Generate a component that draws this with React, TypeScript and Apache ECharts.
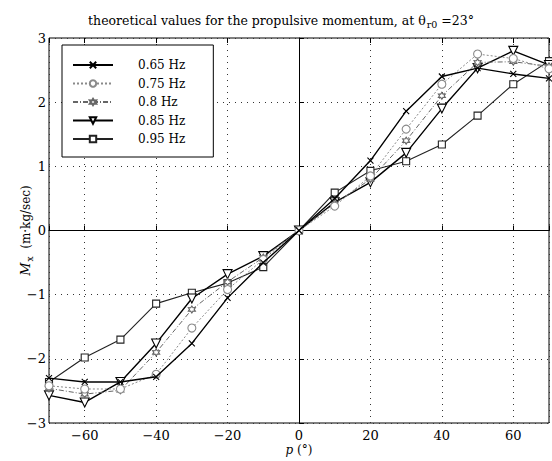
import React, { useEffect, useRef } from "react";
import * as echarts from "echarts";

const angles = [-70, -60, -50, -40, -30, -20, -10, 0, 10, 20, 30, 40, 50, 60, 70];
const seriesNames = ["0.65 Hz", "0.75 Hz", "0.8 Hz", "0.85 Hz", "0.95 Hz"];
const hz065 = [-2.30, -2.36, -2.36, -2.28, -1.76, -1.05, -0.50, 0, 0.50, 1.09, 1.86, 2.40, 2.53, 2.44, 2.37];
const hz075 = [-2.42, -2.47, -2.47, -2.24, -1.52, -0.92, -0.45, 0, 0.38, 0.85, 1.58, 2.28, 2.75, 2.68, 2.52];
const hz080 = [-2.46, -2.55, -2.49, -1.90, -1.23, -0.80, -0.42, 0, 0.42, 0.80, 1.40, 2.10, 2.62, 2.63, 2.56];
const hz085 = [-2.57, -2.68, -2.36, -1.76, -1.06, -0.68, -0.40, 0, 0.44, 0.75, 1.21, 1.90, 2.53, 2.80, 2.58];
const hz095 = [-2.36, -1.98, -1.70, -1.14, -0.97, -0.82, -0.57, 0, 0.59, 0.93, 1.08, 1.34, 1.79, 2.28, 2.64];

const FONT = "DejaVu Serif";

const pair = (vals: number[]) => angles.map((a, i) => [a, vals[i]]);
const minus = (v: number) => String(v).replace("-", "\u2212");

export default function App() {
  const ref = useRef<HTMLDivElement>(null);
  useEffect(() => {
    if (!ref.current) return;
    const chart = echarts.init(ref.current, undefined, { renderer: "svg" });
    const xMark = "path://M0,0L10,10M0,10L10,0";
    const star = "path://M5,0L6.4,2.6L9.3,2.5L7.9,5L9.3,7.5L6.4,7.4L5,10L3.6,7.4L0.7,7.5L2.1,5L0.7,2.5L3.6,2.6Z";
    const specs = [
      { data: hz065, color: "#000", width: 1.4, type: "solid", symbol: xMark, size: 6, rotate: 0, fill: "#000" },
      { data: hz075, color: "#8a8a8a", width: 1, type: [2, 2], symbol: "circle", size: 8, rotate: 0, fill: "#fff" },
      { data: hz080, color: "#666", width: 1, type: [5, 2, 1, 2], symbol: star, size: 7, rotate: 0, fill: "#fff" },
      { data: hz085, color: "#000", width: 1.4, type: "solid", symbol: "triangle", size: 9, rotate: 180, fill: "#fff" },
      { data: hz095, color: "#222", width: 1.1, type: "solid", symbol: "rect", size: 7, rotate: 0, fill: "#fff" },
    ];
    chart.setOption({
      animation: false,
      backgroundColor: "#fff",
      title: {
        text: "theoretical values for the propulsive momentum, at \u03b8{sub|r0} =23\u00b0",
        left: 276,
        textAlign: "center",
        top: 6,
        textStyle: {
          fontFamily: FONT,
          fontSize: 12.5,
          fontWeight: "normal",
          color: "#000",
          rich: {
            sub: { fontFamily: FONT, fontSize: 9.5, verticalAlign: "bottom", padding: [8, 0, 0, 1], color: "#000" },
          },
        },
      },
      grid: { left: 49, right: -6, top: 38, bottom: 35, show: true, borderColor: "#000", borderWidth: 1, backgroundColor: "transparent" },
      legend: {
        orient: "vertical",
        left: 62,
        top: 45,
        data: seriesNames,
        itemWidth: 40,
        itemHeight: 8,
        itemGap: 6.5,
        padding: [14, 28, 12, 10],
        borderColor: "#000",
        borderWidth: 1,
        backgroundColor: "#fff",
        textStyle: { fontFamily: FONT, fontSize: 12, color: "#000", padding: [0, 0, 0, 20] },
      },
      xAxis: [
        {
          type: "value",
          min: -70,
          max: 70,
          splitNumber: 7,
          name: "{i|p} (\u00b0)",
          nameLocation: "middle",
          nameGap: 21,
          nameMoveOverlap: false,
          nameTextStyle: { fontFamily: FONT, fontSize: 12, color: "#000", rich: { i: { fontFamily: FONT, fontStyle: "italic", fontSize: 12 } } },
          axisLine: { show: true, lineStyle: { color: "#000", width: 1 } },
          axisTick: { show: true, inside: true, length: 5, lineStyle: { color: "#000" } },
          axisLabel: {
            fontFamily: FONT,
            fontSize: 13,
            color: "#000",
            margin: 6,
            formatter: (v: number) => (Math.abs(v) === 70 ? "" : minus(v)),
          },
          splitLine: { show: true, lineStyle: { color: "#333", type: [1, 5], width: 1 } },
        },
        {
          type: "value",
          position: "top",
          min: -70,
          max: 70,
          splitNumber: 7,
          axisLine: { show: false },
          axisTick: { show: true, inside: true, length: 5, lineStyle: { color: "#000" } },
          axisLabel: { show: false },
          splitLine: { show: false },
        },
      ],
      yAxis: {
        type: "value",
        min: -3,
        max: 3,
        interval: 1,
        name: "{i|M}{sub|x}  (m\u00b7kg/sec)",
        nameLocation: "middle",
        nameRotate: 90,
        nameGap: 15,
        nameMoveOverlap: false,
        nameTextStyle: {
          fontFamily: FONT,
          fontSize: 12,
          color: "#000",
          rich: {
            i: { fontFamily: FONT, fontStyle: "italic", fontSize: 13 },
            sub: { fontFamily: FONT, fontSize: 9, verticalAlign: "bottom", padding: [8, 0, 0, 1] },
          },
        },
        axisLine: { show: true, lineStyle: { color: "#000", width: 1 } },
        axisTick: { show: true, inside: true, length: 5, lineStyle: { color: "#000" } },
        axisLabel: { fontFamily: FONT, fontSize: 13, color: "#000", margin: 3, formatter: (v: number) => minus(v) },
        splitLine: { show: true, lineStyle: { color: "#333", type: [1, 5], width: 1 } },
      },
      series: specs.map((s, i) => ({
        name: seriesNames[i],
        type: "line",
        data: pair(s.data),
        symbol: s.symbol,
        symbolSize: s.size,
        symbolRotate: s.rotate,
        showAllSymbol: true,
        lineStyle: { color: s.color, width: s.width, type: s.type },
        itemStyle: { color: s.fill, borderColor: s.color, borderWidth: 1.1 },
        z: 10 - i,
      })),
    });
    return () => chart.dispose();
  }, []);
  return <div ref={ref} style={{ position: "fixed", left: 0, top: 0, width: 552, height: 461 }} />;
}
